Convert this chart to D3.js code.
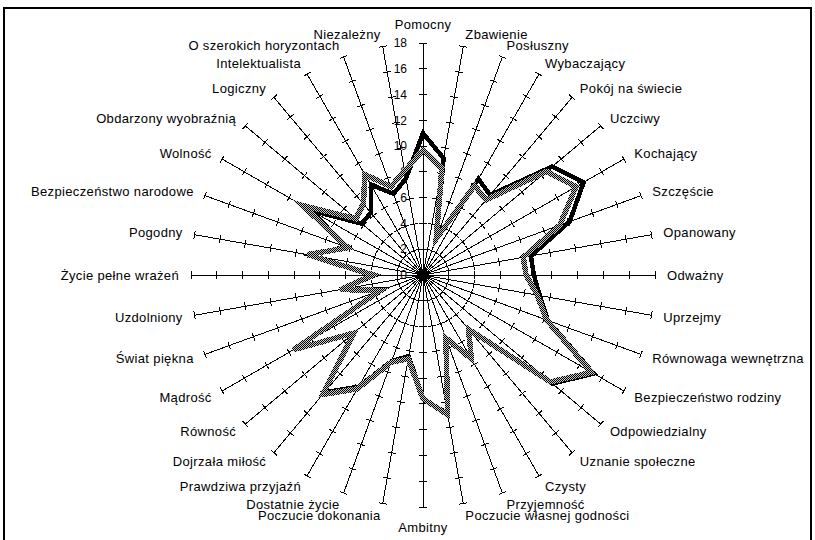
<!DOCTYPE html>
<html lang="pl">
<head>
<meta charset="utf-8">
<style>
  body { margin: 0; padding: 0; background: #fff; }
  svg { display: block; font-family: "Liberation Sans", Arial, Helvetica, sans-serif; }
  .axis line { stroke: #000; stroke-width: 1; shape-rendering: crispEdges; }
  .cat { font-size: 13px; letter-spacing: 0.35px; fill: #000; }
  .tick-label { font-size: 12px; fill: #000; }
</style>
</head>
<body>
<svg width="815" height="540"></svg>
<script src="https://cdnjs.cloudflare.com/ajax/libs/d3/7.8.5/d3.min.js"></script>
<script>
// categories, clockwise from the top
var categories = ["Pomocny", "Zbawienie", "Posłuszny", "Wybaczający", "Pokój na świecie", "Uczciwy",
  "Kochający", "Szczęście", "Opanowany", "Odważny", "Uprzejmy", "Równowaga wewnętrzna",
  "Bezpieczeństwo rodziny", "Odpowiedzialny", "Uznanie społeczne", "Czysty", "Przyjemność",
  "Poczucie własnej godności", "Ambitny", "Poczucie dokonania", "Dostatnie życie",
  "Prawdziwa przyjaźń", "Dojrzała miłość", "Równość", "Mądrość", "Świat piękna", "Uzdolniony",
  "Życie pełne wrażeń", "Pogodny", "Bezpieczeństwo narodowe", "Wolność", "Obdarzony wyobraźnią",
  "Logiczny", "Intelektualista", "O szerokich horyzontach", "Niezależny"];

// black series
var seriesBlack = [11.0, 9.2, 3.0, 8.6, 8.1, 13.1, 14.4, 12.1, 8.5, 8.6, 9.2, 10.3,
  15.3, 13.1, 5.5, 7.5, 5.2, 10.9, 9.6, 6.4, 7.1, 10.0, 11.9, 7.0,
  11.5, 3.3, 6.4, 3.7, 8.9, 6.4, 10.0, 6.2, 6.3, 8.1, 6.7, 7.6];

// grey (dithered) series
var seriesGrey = [9.7, 8.4, 3.0, 8.0, 7.6, 12.5, 13.7, 11.3, 7.9, 8.0, 9.0, 10.2,
  15.1, 12.9, 5.5, 7.5, 5.2, 11.0, 9.6, 6.6, 7.2, 10.2, 12.1, 7.0,
  11.6, 3.5, 6.5, 3.9, 9.1, 6.2, 10.8, 6.8, 7.2, 9.0, 7.3, 8.2];

var tickValues = [0, 2, 4, 6, 8, 10, 12, 14, 16, 18];

var svg = d3.select("svg"),
  cx = 423,
  cy = 275,
  R = 232;

var r = d3.scaleLinear().domain([0, 18]).range([0, R]);
var angle = d3.scaleLinear().domain([0, categories.length]).range([0, 2 * Math.PI]);

var defs = svg.append("defs");
var pat = defs.append("pattern")
  .attr("id", "dither")
  .attr("width", 2)
  .attr("height", 2)
  .attr("patternUnits", "userSpaceOnUse");
pat.append("rect").attr("width", 2).attr("height", 2).attr("fill", "#c8c8c8");
pat.append("rect").attr("width", 1).attr("height", 1).attr("fill", "#000");
pat.append("rect").attr("x", 1).attr("y", 1).attr("width", 1).attr("height", 1).attr("fill", "#000");

// frame
svg.append("rect")
  .attr("x", 4)
  .attr("y", 8)
  .attr("width", 807)
  .attr("height", 600)
  .attr("fill", "none")
  .attr("stroke", "#000")
  .attr("stroke-width", 2);

var g = svg.append("g").attr("transform", "translate(" + cx + "," + cy + ")");

// spokes with tick marks
var spokes = g.append("g").attr("class", "axis")
  .selectAll("g")
  .data(categories)
  .enter().append("g")
  .attr("transform", function(d, i) { return "rotate(" + (angle(i) * 180 / Math.PI) + ")"; });

spokes.append("line")
  .attr("x1", 0).attr("y1", 0)
  .attr("x2", 0).attr("y2", -r(18));

spokes.selectAll(".tk")
  .data(tickValues.slice(1))
  .enter().append("line")
  .attr("class", "tk")
  .attr("x1", -4).attr("x2", 4)
  .attr("y1", function(v) { return -r(v); })
  .attr("y2", function(v) { return -r(v); });

// value labels along the first spoke
g.append("g")
  .selectAll("text")
  .data(tickValues)
  .enter().append("text")
  .attr("class", "tick-label")
  .attr("x", -16)
  .attr("y", function(v) { return -r(v); })
  .attr("dy", "0.35em")
  .attr("text-anchor", "end")
  .text(function(v) { return v; });

// category labels
g.append("g")
  .selectAll("text")
  .data(categories)
  .enter().append("text")
  .attr("class", "cat")
  .each(function(d, i) {
    var a = angle(i),
      s = Math.sin(a),
      c = Math.cos(a),
      rr = R + 12,
      t = d3.select(this)
        .attr("x", rr * s)
        .attr("y", -rr * c);
    if (Math.abs(s) < 0.01) {
      t.attr("text-anchor", "middle").attr("dy", c > 0 ? "-0.15em" : "1em");
    } else {
      t.attr("text-anchor", s > 0 ? "start" : "end").attr("dy", "0.35em");
    }
  })
  .text(function(d) { return d; });

var line = d3.lineRadial()
  .angle(function(d, i) { return angle(i); })
  .radius(function(d) { return r(d); })
  .curve(d3.curveLinearClosed);

g.append("path")
  .datum(seriesBlack)
  .attr("d", line)
  .attr("fill", "none")
  .attr("stroke", "#000")
  .attr("stroke-width", 4.5)
  .attr("stroke-linejoin", "miter")
  .attr("shape-rendering", "crispEdges");

g.append("path")
  .datum(seriesGrey)
  .attr("d", line)
  .attr("fill", "none")
  .attr("stroke", "url(#dither)")
  .attr("stroke-width", 5.5)
  .attr("stroke-linejoin", "miter")
  .attr("shape-rendering", "crispEdges");
</script>
</body>
</html>
